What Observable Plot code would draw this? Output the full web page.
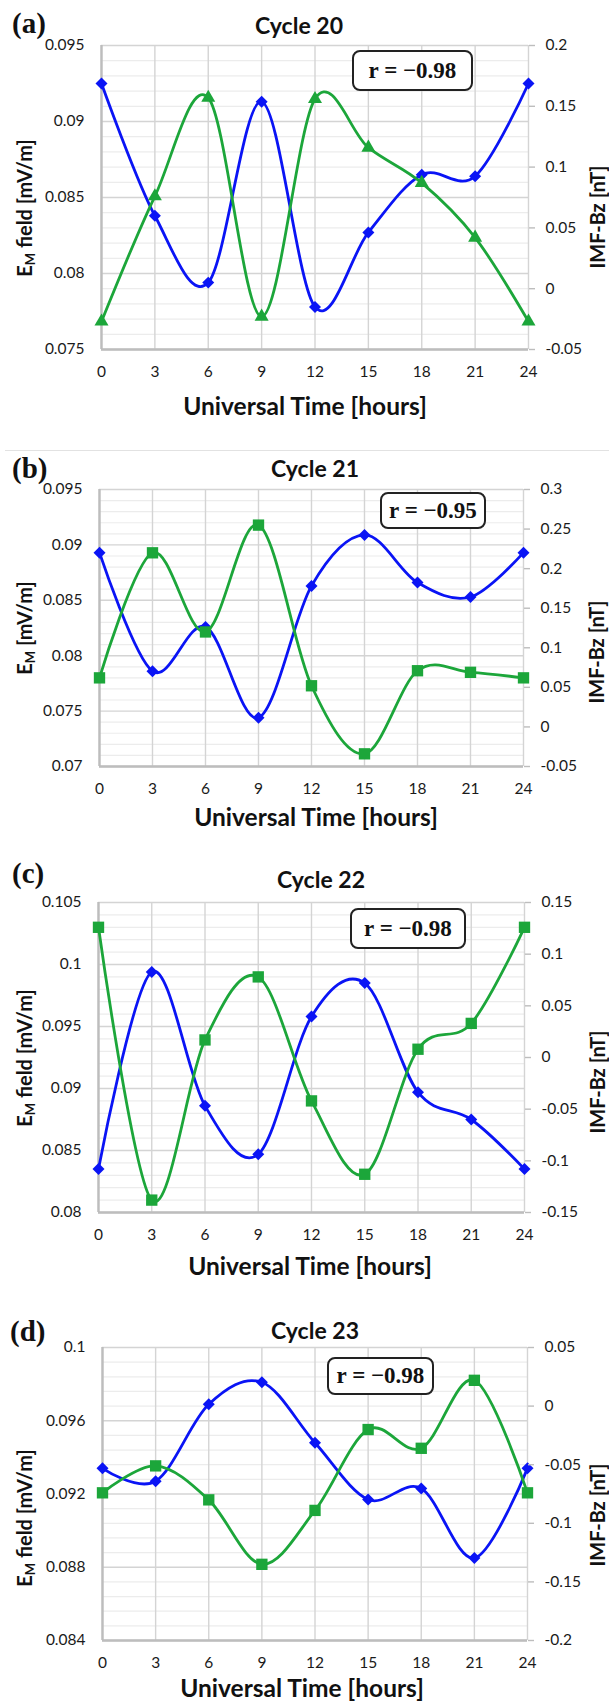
<!DOCTYPE html>
<html>
<head>
<meta charset="utf-8">
<script src="https://cdn.jsdelivr.net/npm/d3@7"></script>
<script src="https://cdn.jsdelivr.net/npm/@observablehq/plot@0.6"></script>
<style>
  body { margin: 0; background: #fff; }
  #root { position: relative; width: 609px; height: 1702px; overflow: hidden; font-family: Lato, "Open Sans", sans-serif; background: #fff; }
  .abs { position: absolute; white-space: nowrap; }
  .letter { font-family: "Liberation Serif", "DejaVu Serif", serif; font-weight: bold; font-size: 29px; line-height: 30px; color: #111; }
  .ctitle { font-weight: bold; font-size: 23px; line-height: 24px; color: #111; transform: translate(-50%, -50%); }
  .xtitle { font-weight: bold; font-size: 24.5px; line-height: 22px; color: #111; transform: translate(-50%, -50%); }
  .ytitle { font-weight: bold; font-size: 20px; line-height: 18px; color: #111; transform: translate(-50%, -50%) rotate(-90deg); }
  .ytitle sub { font-size: 13px; vertical-align: -3px; line-height: 0; }
  .rbox { box-sizing: border-box; border: 2px solid #222; border-radius: 8px; display: flex; align-items: center; justify-content: center;
          font-family: "Liberation Serif", "DejaVu Serif", serif; font-weight: bold; font-size: 23px; color: #111; background: #fff; }
  .sep { position: absolute; left: 5px; right: 0; height: 1px; background: #e2e2e2; }
</style>
</head>
<body>
<div id="root"></div>
<script>
// ---------- data ----------
const hours = [0, 3, 6, 9, 12, 15, 18, 21, 24];
const panelLetters = ["(a)", "(b)", "(c)", "(d)"];
const cycleTitles = ["Cycle 20", "Cycle 21", "Cycle 22", "Cycle 23"];
const rLabels = ["r = \u22120.98", "r = \u22120.95", "r = \u22120.98", "r = \u22120.98"];
const xTitle = "Universal Time [hours]";
const leftTitles = ["field [mV/m]", "[mV/m]", "field [mV/m]", "field [mV/m]"];
const rightTitle = "IMF-Bz [nT]";

// E_M field [mV/m] (blue, left axis)
const emC20 = [0.0925, 0.0838, 0.0794, 0.0913, 0.0778, 0.0827, 0.0865, 0.0864, 0.0925];
const emC21 = [0.0893, 0.0786, 0.0826, 0.0744, 0.0863, 0.0909, 0.0866, 0.0853, 0.0893];
const emC22 = [0.0835, 0.0994, 0.0886, 0.0847, 0.0958, 0.0985, 0.0897, 0.0875, 0.0835];
const emC23 = [0.0934, 0.0927, 0.0969, 0.0981, 0.0948, 0.0917, 0.0923, 0.0885, 0.0934];

// IMF-Bz [nT] (green, right axis)
const bzC20 = [-0.027, 0.076, 0.157, -0.023, 0.156, 0.116, 0.087, 0.042, -0.027];
const bzC21 = [0.062, 0.220, 0.120, 0.255, 0.052, -0.034, 0.071, 0.069, 0.062];
const bzC22 = [0.126, -0.138, 0.017, 0.078, -0.042, -0.113, 0.008, 0.033, 0.126];
const bzC23 = [-0.074, -0.051, -0.080, -0.135, -0.089, -0.020, -0.036, 0.022, -0.074];

// axis ticks
const leftTicksC20 = [0.075, 0.08, 0.085, 0.09, 0.095];
const leftTickLabelsC20 = ["0.075", "0.08", "0.085", "0.09", "0.095"];
const rightTicksC20 = [-0.05, 0, 0.05, 0.1, 0.15, 0.2];
const rightTickLabelsC20 = ["-0.05", "0", "0.05", "0.1", "0.15", "0.2"];

const leftTicksC21 = [0.07, 0.075, 0.08, 0.085, 0.09, 0.095];
const leftTickLabelsC21 = ["0.07", "0.075", "0.08", "0.085", "0.09", "0.095"];
const rightTicksC21 = [-0.05, 0, 0.05, 0.1, 0.15, 0.2, 0.25, 0.3];
const rightTickLabelsC21 = ["-0.05", "0", "0.05", "0.1", "0.15", "0.2", "0.25", "0.3"];

const leftTicksC22 = [0.08, 0.085, 0.09, 0.095, 0.1, 0.105];
const leftTickLabelsC22 = ["0.08", "0.085", "0.09", "0.095", "0.1", "0.105"];
const rightTicksC22 = [-0.15, -0.1, -0.05, 0, 0.05, 0.1, 0.15];
const rightTickLabelsC22 = ["-0.15", "-0.1", "-0.05", "0", "0.05", "0.1", "0.15"];

const leftTicksC23 = [0.084, 0.088, 0.092, 0.096, 0.1];
const leftTickLabelsC23 = ["0.084", "0.088", "0.092", "0.096", "0.1"];
const rightTicksC23 = [-0.2, -0.15, -0.1, -0.05, 0, 0.05];
const rightTickLabelsC23 = ["-0.2", "-0.15", "-0.1", "-0.05", "0", "0.05"];

// ---------- layout / style ----------
const BLUE = "#0a14f5";
const GREEN = "#1ca63a";
const W = 609;

const panels = [
  { em: emC20, bz: bzC20, lt: leftTicksC20, ll: leftTickLabelsC20, rt: rightTicksC20, rl: rightTickLabelsC20, sym: "triangle", symR: 5.2,
    frame: { l: 101, r: 528, t: 45, b: 349 },
    letterY: 23, title: [299, 25], xt: [305, 406], lt0: [24, 208], rt0: [597, 217], box: [352, 50, 121, 41] },
  { em: emC21, bz: bzC21, lt: leftTicksC21, ll: leftTickLabelsC21, rt: rightTicksC21, rl: rightTickLabelsC21, sym: "square", symR: 6.4,
    frame: { l: 99, r: 523, t: 489, b: 766 },
    letterY: 468, title: [315, 468], xt: [316, 817], lt0: [24, 628], rt0: [596, 652], box: [380, 492, 106, 37] },
  { em: emC22, bz: bzC22, lt: leftTicksC22, ll: leftTickLabelsC22, rt: rightTicksC22, rl: rightTickLabelsC22, sym: "square", symR: 6.4,
    frame: { l: 98, r: 524, t: 902, b: 1212 },
    letterY: 873, title: [321, 879], xt: [310, 1266], lt0: [24, 1058], rt0: [597, 1082], box: [350, 908, 116, 41] },
  { em: emC23, bz: bzC23, lt: leftTicksC23, ll: leftTickLabelsC23, rt: rightTicksC23, rl: rightTickLabelsC23, sym: "square", symR: 6.4,
    frame: { l: 102, r: 527, t: 1347, b: 1640 },
    letterY: 1331, title: [315, 1330], xt: [302, 1688], lt0: [24, 1518], rt0: [597, 1515], box: [327, 1357, 107, 38] }
];

const root = document.getElementById("root");

function addDiv(cls, html, styles) {
  const d = document.createElement("div");
  d.className = "abs " + cls;
  d.innerHTML = html;
  Object.assign(d.style, styles);
  root.appendChild(d);
  return d;
}

function minorTicks(ticks) {
  const out = [];
  for (let i = 0; i < ticks.length - 1; i++) {
    const step = (ticks[i + 1] - ticks[i]) / 5;
    for (let k = 1; k < 5; k++) out.push(ticks[i] + k * step);
  }
  return out;
}

const MT = 10, MB = 44;

panels.forEach((p, i) => {
  const f = p.frame;
  const h = (f.b - f.t) + MT + MB;
  const rows = hours.map((x, j) => ({ x, em: p.em[j], bz: p.bz[j] }));
  const lMap = new Map(p.lt.map((v, j) => [v, p.ll[j]]));
  const rMap = new Map(p.rt.map((v, j) => [v, p.rl[j]]));
  const common = {
    width: W, height: h,
    marginTop: MT, marginBottom: MB, marginLeft: f.l, marginRight: W - f.r,
    style: { fontFamily: "Lato, 'Open Sans', sans-serif", fontSize: "15.5px", color: "#1a1a1a", background: "transparent", overflow: "visible" }
  };

  // base: grid, left axis, x axis, blue series
  const base = Plot.plot({
    ...common,
    x: { domain: [0, 24] },
    y: { domain: [p.lt[0], p.lt[p.lt.length - 1]] },
    marks: [
      Plot.gridY(minorTicks(p.lt), { stroke: "#ececec", strokeOpacity: 1, strokeWidth: 1.2 }),
      Plot.gridY(p.lt, { stroke: "#d4d4d4", strokeOpacity: 1, strokeWidth: 1.4 }),
      Plot.gridX(hours, { stroke: "#d4d4d4", strokeOpacity: 1, strokeWidth: 1.4 }),
      Plot.ruleX([0], { stroke: "#bdbdbd", strokeWidth: 2.4 }),
      Plot.ruleY([p.lt[0]], { stroke: "#bdbdbd", strokeWidth: 2.4 }),
      Plot.axisY(p.lt, { tickSize: 0, tickPadding: 17, tickFormat: (d) => lMap.get(d), label: null }),
      Plot.axisX(hours, { tickSize: 0, tickPadding: 16, label: null }),
      Plot.line(rows, { x: "x", y: "em", curve: "cardinal", stroke: BLUE, strokeWidth: 2.8 }),
      Plot.dot(rows, { x: "x", y: "em", symbol: "diamond2", fill: BLUE, stroke: "none", r: 5.4 })
    ]
  });

  // overlay: right axis, green series
  const over = Plot.plot({
    ...common,
    x: { domain: [0, 24], axis: null },
    y: { domain: [p.rt[0], p.rt[p.rt.length - 1]] },
    marks: [
      Plot.axisY(p.rt, { anchor: "right", tickSize: 6, tickPadding: 11, stroke: "#bdbdbd", strokeWidth: 1.4, fill: "#1a1a1a", tickFormat: (d) => rMap.get(d), label: null }),
      Plot.line(rows, { x: "x", y: "bz", curve: "cardinal", stroke: GREEN, strokeWidth: 2.8 }),
      Plot.dot(rows, { x: "x", y: "bz", symbol: p.sym, fill: GREEN, stroke: "none", r: p.symR })
    ]
  });

  for (const svg of [base, over]) {
    svg.style.position = "absolute";
    svg.style.left = "0px";
    svg.style.top = (f.t - MT) + "px";
    root.appendChild(svg);
  }

  addDiv("letter", panelLetters[i], { left: (i === 3 ? 10 : 12) + "px", top: (p.letterY - 15) + "px" });
  addDiv("ctitle", cycleTitles[i], { left: p.title[0] + "px", top: p.title[1] + "px" });
  addDiv("xtitle", xTitle, { left: p.xt[0] + "px", top: p.xt[1] + "px" });
  addDiv("ytitle", "E<sub>M</sub> " + leftTitles[i], { left: p.lt0[0] + "px", top: p.lt0[1] + "px" });
  addDiv("ytitle", rightTitle, { left: p.rt0[0] + "px", top: p.rt0[1] + "px" });
  addDiv("rbox", rLabels[i], { left: p.box[0] + "px", top: p.box[1] + "px", width: p.box[2] + "px", height: p.box[3] + "px" });
});

const sep = document.createElement("div");
sep.className = "sep";
sep.style.top = "450px";
root.appendChild(sep);
</script>
</body>
</html>
